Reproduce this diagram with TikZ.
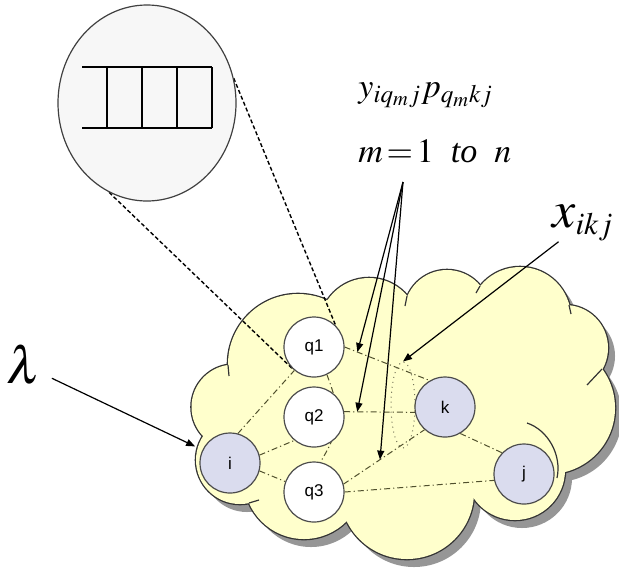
\documentclass[tikz,border=0pt]{standalone}
\usepackage{mathptmx}
\usepackage[no-math]{fontspec}
\setmainfont{Liberation Serif}
\newfontfamily\labelfont{Liberation Sans}
\usetikzlibrary{positioning,arrows.meta,shapes.geometric}

\definecolor{cloudfill}{RGB}{255,255,204}
\definecolor{cloudshade}{RGB}{150,150,150}
\definecolor{endfill}{RGB}{218,220,238}
\definecolor{linkcol}{RGB}{80,80,45}

\pgfdeclarelayer{cloudlayer}
\pgfdeclarelayer{linklayer}
\pgfsetlayers{cloudlayer,linklayer,main}

% lobes of the cloud: x/y/radius
\newcommand{\cloudlobes}{298/364/70, 369/328/50, 447/313/43, 520/318/51, 565/348/43,
  549/408/66, 515/470/50, 407/492/67, 304/479/60, 240/460/44, 234/407/42.5}
\newcommand{\cloudcore}{(228,365) -- (327,300) -- (407,296) -- (480,286) -- (569,305)
  -- (602,369) -- (565,472) -- (474,498) -- (347,521) -- (249,503) -- (203,436) -- cycle}

\begin{document}
\begin{tikzpicture}[x=0.5pt, y=-0.5pt,
  qnode/.style={circle, draw=black!70, fill=white, line width=0.6pt, minimum size=30pt,
    inner sep=0pt, font=\labelfont\fontsize{8.5}{10}\selectfont},
  endnode/.style={qnode, fill=endfill},
  link/.style={draw=linkcol, line width=0.5pt, dash pattern=on 3pt off 1.5pt on 0.6pt off 1.5pt},
  tangent/.style={draw=black, line width=0.7pt, dash pattern=on 2pt off 1.2pt},
  arr/.style={draw=black, line width=0.6pt, -{Triangle[length=4.5pt,width=3.5pt]}},
  cloudline/.style={draw=black!80, line width=0.6pt}]
\useasboundingbox (0,0) rectangle (619,574);

% Cloud: shadow, outline, fill
\begin{pgfonlayer}{cloudlayer}
\begin{scope}[shift={(7,8)}]
  \fill[cloudshade] \cloudcore;
  \foreach \x/\y/\r in \cloudlobes { \fill[cloudshade] (\x,\y) circle (\r); }
\end{scope}
\foreach \x/\y/\r in \cloudlobes { \draw[black!80, line width=1.3pt] (\x,\y) circle (\r); }
\fill[cloudfill] \cloudcore;
\foreach \x/\y/\r in \cloudlobes { \fill[cloudfill] (\x,\y) circle (\r); }
% small inner arcs of the cloud
\foreach \xa/\ya/\xb/\yb in {228/365/229/376, 407/296/405/306, 480/286/476/293,
  569/305/571/314, 602/369/587/385, 249/503/259/500} {
  \draw[cloudline] (\xa,\ya) -- (\xb,\yb);
}
\draw[cloudline] (527,423) .. controls (548,430) and (562,455) .. (557,478);
\end{pgfonlayer}

% Magnified queue
\node[ellipse, draw=black!75, fill=black!3, line width=0.6pt, minimum width=89pt,
  minimum height=98pt, inner sep=0pt] (mag) at (147,103) {};
\draw[line width=0.8pt] (82,67) -- (212,67);
\draw[line width=0.6pt] (82,128) -- (212,128);
\foreach \x in {107,142,177,212} {
  \draw[line width=0.6pt] (\x,67) -- (\x,128);
}

% Nodes
\node[qnode] (q1) at (314,347) {q1};
\node[qnode] (q2) at (314,417) {q2};
\node[qnode] (q3) at (314,492) {q3};
\node[endnode] (i) at (230,463) {i};
\node[endnode] (k) at (445,407) {k};
\node[endnode] (j) at (524,474) {j};
\node[ellipse, draw=linkcol!80, dotted, line width=0.5pt, minimum width=12pt,
  minimum height=43pt, inner sep=0pt] (cut) at (403,405) {};

% Links and zoom lines, under the nodes
\begin{pgfonlayer}{linklayer}
\draw[link] (i.75) -- (q1.-130);
\draw[link] (i.15) -- (q2.-130);
\draw[link] (i.-15) -- (q3.160);
\draw[link] (q1.east) -- coordinate[pos=0.15] (t1) (k.120);
\draw[link] (q2.10) -- coordinate[pos=0.185] (t2) (k.190);
\draw[link] (q3.15) -- coordinate[pos=0.45] (t3) (k.228);
\draw[link] (q3.east) -- (j.192);
\draw[link] (k.-60) -- (j.136);
\draw[link] (q1.-65) .. controls (341,412) and (342,427) .. (q3.78);
\draw[tangent] (mag.16) -- (q1.45);
\draw[tangent] (mag.247) -- (q1.-135);
\end{pgfonlayer}

% Labels
\node[font=\fontsize{26}{30}\selectfont, inner sep=5pt] (lam) at (24,365) {$\lambda$};
\node[anchor=base west, inner sep=0pt, font=\fontsize{26}{30}\selectfont] (xl) at (552,227)
  {$x_{\scriptscriptstyle ikj}$};
\node[anchor=base west, inner sep=0pt, font=\fontsize{17}{20}\selectfont] (yl) at (358,97)
  {$y_{iq_m j}p_{q_m kj}$};
\node[anchor=base west, inner sep=0pt, font=\fontsize{17}{20}\selectfont] (ml) at (358,162)
  {$m\,{=}\,1$\ \ \textit{to}\ \ $n$};
\coordinate (fan) at (403,182);

% Arrows
\draw[arr, shorten >=4pt] (lam) -- (i);
\draw[arr] (xl) -- (cut.north);
\foreach \t in {t1,t2,t3} {
  \draw[arr] (fan) -- (\t);
}
\end{tikzpicture}
\end{document}
